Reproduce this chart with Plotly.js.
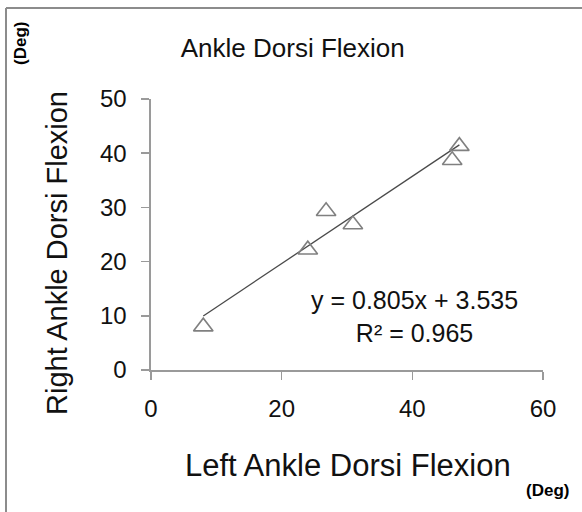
<!DOCTYPE html>
<html>
<head>
<meta charset="utf-8">
<script src="https://cdn.plot.ly/plotly-3.0.1.min.js"></script>
<style>html,body{margin:0;padding:0;background:#fff;}#chart{width:582px;height:512px;}</style>
</head>
<body>
<div id="chart"></div>
<script>
// Data
const leftAnkle = [8.0, 24.0, 26.8, 30.9, 46.1, 47.2];
const rightAnkle = [8.0, 22.2, 29.3, 26.85, 38.7, 41.3];
const slope = 0.805;
const intercept = 3.535;
const rSquared = 0.965;
const xTicks = [0, 20, 40, 60];
const yTicks = [0, 10, 20, 30, 40, 50];

const xMin = Math.min(...leftAnkle), xMax = Math.max(...leftAnkle);
const trendX = [xMin, xMax];
const trendY = trendX.map(v => slope * v + intercept);

const FONT = 'Liberation Sans, Arial, sans-serif';
const axisCol = '#9a9a9a';

const traces = [
  {x: trendX, y: trendY, mode: 'lines', type: 'scatter',
   line: {color: '#4a4a4a', width: 1.3}, hoverinfo: 'skip', showlegend: false},
  {x: leftAnkle, y: rightAnkle, mode: 'markers', type: 'scatter',
   marker: {symbol: 'triangle-up-open', size: 17, color: '#808080', line: {color: '#808080', width: 1.6}},
   showlegend: false}
];

const eqText = 'y = ' + slope.toFixed(3) + 'x + ' + intercept.toFixed(3) + '<br>R² = ' + rSquared.toFixed(3);

const layout = {
  width: 582, height: 512,
  margin: {l: 151, r: 39, t: 99, b: 142, pad: 0},
  paper_bgcolor: '#ffffff', plot_bgcolor: '#ffffff',
  font: {family: FONT, color: '#111'},
  title: {text: 'Ankle Dorsi Flexion', font: {size: 26, color: '#111', family: FONT},
          xref: 'container', x: 0.503, xanchor: 'center', yref: 'container', y: 0.906, yanchor: 'middle'},
  xaxis: {range: [0, 60], tickvals: xTicks, ticktext: xTicks.map(String),
          showline: true, linecolor: axisCol, linewidth: 1.6, ticks: 'outside', ticklen: 8,
          tickcolor: axisCol, tickwidth: 1.6, showgrid: false, zeroline: false,
          tickfont: {size: 24, color: '#111'}, ticklabelstandoff: 9},
  yaxis: {range: [0, 50], tickvals: yTicks, ticktext: yTicks.map(String),
          showline: true, linecolor: axisCol, linewidth: 1.6, ticks: 'outside', ticklen: 8,
          tickcolor: axisCol, tickwidth: 1.6, showgrid: false, zeroline: false,
          tickfont: {size: 24, color: '#111'}, ticklabelstandoff: 10},
  annotations: [
    {text: 'Left Ankle Dorsi Flexion', xref: 'paper', yref: 'paper', x: (348 - 151) / 392, y: (370 - 465) / 271,
     xanchor: 'center', yanchor: 'middle', showarrow: false, font: {size: 31, color: '#111'}},
    {text: 'Right Ankle Dorsi Flexion', xref: 'paper', yref: 'paper', x: (57 - 151) / 392, y: (370 - 253) / 271,
     textangle: -90, xanchor: 'center', yanchor: 'middle', showarrow: false, font: {size: 29, color: '#111'}},
    {text: eqText,
     xref: 'x', yref: 'y', x: 40.4, y: 9.9, xanchor: 'center', yanchor: 'middle', align: 'center',
     showarrow: false, font: {size: 25, color: '#111'}},
    {text: '<b>(Deg)</b>', xref: 'paper', yref: 'paper', x: (547 - 151) / 392, y: (370 - 490) / 271,
     xanchor: 'center', yanchor: 'middle', showarrow: false, font: {size: 17, color: '#000'}},
    {text: '<b>(Deg)</b>', xref: 'paper', yref: 'paper', x: (20 - 151) / 392, y: (370 - 44) / 271, textangle: -90,
     xanchor: 'center', yanchor: 'middle', showarrow: false, font: {size: 17, color: '#000'}}
  ],
  shapes: [
    {type: 'line', xref: 'paper', yref: 'paper', x0: (6 - 151) / 392, x1: (6 - 151) / 392, y0: (370 - 8) / 271, y1: -0.6,
     line: {color: '#8c8c8c', width: 2}},
    {type: 'line', xref: 'paper', yref: 'paper', x0: (6 - 151) / 392, x1: 1.2, y0: (370 - 8) / 271, y1: (370 - 8) / 271,
     line: {color: '#8c8c8c', width: 2}}
  ]
};

Plotly.newPlot('chart', traces, layout, {displayModeBar: false, staticPlot: true});
</script>
</body>
</html>
